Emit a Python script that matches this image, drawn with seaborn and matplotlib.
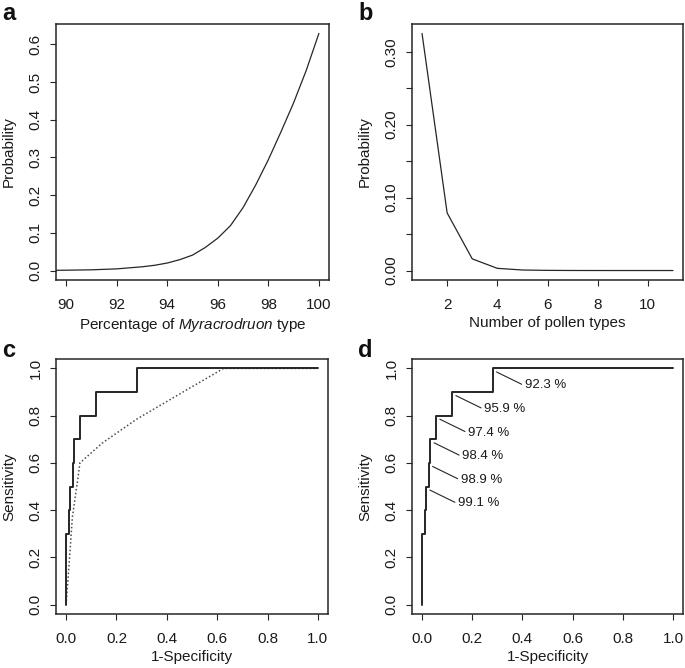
import numpy as np
import pandas as pd
import matplotlib
matplotlib.use("Agg")
import matplotlib.pyplot as plt
import seaborn as sns

# ---------------- data ----------------
# (a) probability vs percentage of Myracrodruon type
pct_x = [89.0, 89.5, 90, 91, 92, 93, 93.5, 94, 94.5, 95, 95.5, 96, 96.5, 97, 97.5, 98,
         98.5, 99, 99.5, 100]
pct_p = [0.0005, 0.0007, 0.001, 0.002, 0.0045, 0.010, 0.014, 0.020, 0.029, 0.041, 0.061,
         0.086, 0.119, 0.167, 0.227, 0.294, 0.368, 0.445, 0.531, 0.629]

# (b) probability vs number of pollen types
n_types = [1, 2, 3, 4, 5, 6, 7, 8, 9, 10, 11]
n_prob = [0.325, 0.079, 0.016, 0.003, 0.0007, 0.0002, 0.00005, 0.00001, 0.0, 0.0, 0.0]

# (c, d) ROC curves
roc_fpr = [0.0, 0.0, 0.010, 0.016, 0.027, 0.033, 0.056, 0.120, 0.282, 1.0]
roc_tpr = [0.0, 0.3, 0.4, 0.5, 0.6, 0.7, 0.8, 0.9, 1.0, 1.0]
roc2_fpr = [0.0, 0.012, 0.025, 0.045, 0.055, 0.145, 0.28, 0.48, 0.625, 1.0]
roc2_tpr = [0.0, 0.17, 0.37, 0.52, 0.60, 0.685, 0.785, 0.91, 1.0, 1.0]

# (d) threshold labels and the ROC corners they point to
thr_labels = ["92.3 %", "95.9 %", "97.4 %", "98.4 %", "98.9 %", "99.1 %"]
thr_fpr = [0.282, 0.120, 0.056, 0.033, 0.027, 0.016]
thr_tpr = [1.0, 0.9, 0.8, 0.7, 0.6, 0.5]

# ---------------- style ----------------
sns.set_style("ticks")
plt.rcParams["font.family"] = ["Liberation Sans", "DejaVu Sans"]
plt.rcParams["mathtext.fontset"] = "custom"
plt.rcParams["mathtext.rm"] = "Liberation Sans"
plt.rcParams["mathtext.it"] = "Liberation Sans:italic"

INK = "#262626"
FS = 11
FS_NOTE = 9.5

fig = plt.figure(figsize=(6.85, 6.68), dpi=100)
W, H = 685, 668


def add_ax(l, t, r, b):
    return fig.add_axes([l / W, 1 - b / H, (r - l) / W, (b - t) / H])


def style(ax, xlim, ylim, xticks, xlabels, yticks, ylabels, xlabel, ylabel):
    ax.set_xlim(*xlim)
    ax.set_ylim(*ylim)
    ax.set_xticks(xticks)
    ax.set_xticklabels(xlabels)
    ax.set_yticks(yticks)
    ax.set_yticklabels(ylabels, rotation=90, va="center")
    for s in ax.spines.values():
        s.set_visible(True)
        s.set_linewidth(1.1)
        s.set_color(INK)
    ax.tick_params(direction="out", length=4.3, width=0.8, color=INK,
                   labelsize=FS, labelcolor="#1a1a1a")
    ax.tick_params(axis="x", pad=9.0)
    ax.tick_params(axis="y", pad=5.4)
    ax.set_xlabel(xlabel, fontsize=FS, color="#1a1a1a", labelpad=2.5)
    ax.set_ylabel(ylabel, fontsize=FS, color="#1a1a1a", labelpad=9)
    ax.grid(False)


# ---- (a) ----
axa = add_ax(56, 24, 329, 280)
dfa = pd.DataFrame({"x": pct_x, "p": pct_p})
sns.lineplot(data=dfa, x="x", y="p", ax=axa, color=INK, lw=0.9, estimator=None, sort=False)
xa = [90, 92, 94, 96, 98, 100]
ya = [0.0, 0.1, 0.2, 0.3, 0.4, 0.5, 0.6]
style(axa, (89.6, 100.4), (-0.025, 0.654),
      xa, [str(v) for v in xa],
      ya, ["%.1f" % v for v in ya],
      r"Percentage of $\it{Myracrodruon}$ type", "Probability")

# ---- (b) ----
axb = add_ax(412, 24, 683, 280)
dfb = pd.DataFrame({"n": n_types, "p": n_prob})
sns.lineplot(data=dfb, x="n", y="p", ax=axb, color=INK, lw=0.9, estimator=None, sort=False)
xb = [2, 4, 6, 8, 10]
yb = [0.0, 0.05, 0.10, 0.15, 0.20, 0.25, 0.30]
style(axb, (0.6, 11.4), (-0.013, 0.338),
      xb, [str(v) for v in xb], yb,
      ["0.00", "", "0.10", "", "0.20", "", "0.30"],
      "Number of pollen types", "Probability")

# ---- (c) ----
rt = [0.0, 0.2, 0.4, 0.6, 0.8, 1.0]
rl = ["%.1f" % v for v in rt]
axc = add_ax(56, 359, 328, 614)
dfc = pd.DataFrame({"fpr": roc_fpr, "tpr": roc_tpr})
dfc2 = pd.DataFrame({"fpr": roc2_fpr, "tpr": roc2_tpr})
sns.lineplot(data=dfc2, x="fpr", y="tpr", ax=axc, color="#4a4a4a", lw=1.1,
             estimator=None, sort=False, linestyle=(0, (1, 1.5)))
sns.lineplot(data=dfc, x="fpr", y="tpr", ax=axc, color=INK, lw=1.4,
             estimator=None, sort=False, drawstyle="steps-post")
style(axc, (-0.04, 1.04), (-0.04, 1.04), rt, rl, rt, rl, "1-Specificity", "Sensitivity")

# ---- (d) ----
axd = add_ax(412, 359, 683, 614)
sns.lineplot(data=dfc, x="fpr", y="tpr", ax=axd, color=INK, lw=1.4,
             estimator=None, sort=False, drawstyle="steps-post")
for lab, fx, ty in zip(thr_labels, thr_fpr, thr_tpr):
    axd.plot([fx + 0.015, fx + 0.115], [ty - 0.015, ty - 0.067], color=INK, lw=0.8)
    axd.text(fx + 0.127, ty - 0.072, lab, ha="left", va="center", fontsize=FS_NOTE,
             color="#1a1a1a")
style(axd, (-0.04, 1.04), (-0.04, 1.04), rt, rl, rt, rl, "1-Specificity", "Sensitivity")

# panel letters
for letter, (px, py) in zip("abcd", [(2, 20), (358, 20), (2, 357), (358, 357)]):
    fig.text(px / W, 1 - py / H, letter, fontsize=17, fontweight="bold",
             ha="left", va="baseline", color="#111111")

fig.savefig("out.png", dpi=100)
